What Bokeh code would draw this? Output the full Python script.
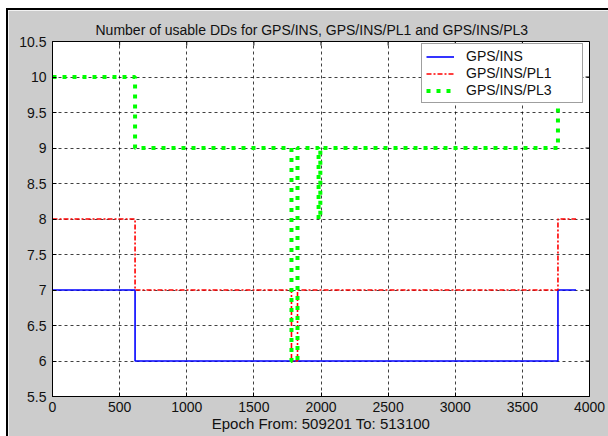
import numpy as np
from bokeh.plotting import figure
from bokeh.layouts import column, row
from bokeh.models import Legend, LegendItem, FixedTicker, CustomJSTickFormatter, Spacer
from bokeh.embed import file_html
from bokeh.resources import INLINE

# ---- data (step change points, value holds until next change) ----
epoch_ins = [0, 615, 3765, 3900]
dd_ins = [7, 6, 7, 7]

epoch_pl1 = [0, 615, 1780, 1825, 3765, 3900]
dd_pl1 = [8, 7, 6, 7, 8, 8]

epoch_pl3 = [0, 615, 1780, 1825, 1982, 1995, 3765, 3900]
dd_pl3 = [10, 9, 6, 9, 8, 9, 10, 10]

x_ticks = [0, 500, 1000, 1500, 2000, 2500, 3000, 3500, 4000]
y_ticks = [5.5, 6, 6.5, 7, 7.5, 8, 8.5, 9, 9.5, 10, 10.5]

title_text = "Number of usable DDs for GPS/INS, GPS/INS/PL1 and GPS/INS/PL3"
x_label = "Epoch From: 509201 To: 513100"

FONT = "Liberation Sans"
GRAY = "#cccccc"
TXT = "#111111"
X0, X1, Y0, Y1 = 0, 4000, 5.5, 10.5

p = figure(width=600, height=426, x_range=(X0, X1), y_range=(Y0, Y1),
           output_backend="svg", toolbar_location=None,
           background_fill_color="white", border_fill_color=GRAY,
           min_border_left=44, min_border_right=19, min_border_top=31, min_border_bottom=40)

p.title.text = title_text
p.title.align = "left"
p.title.offset = 43
p.title.text_font = FONT
p.title.text_font_size = "14px"
p.title.text_font_style = "normal"
p.title.text_color = TXT
p.title.standoff = 8

p.outline_line_color = "black"
p.outline_line_width = 1

for ax in (p.xaxis[0], p.yaxis[0]):
    ax.major_tick_in = 4
    ax.major_tick_out = 0
    ax.minor_tick_line_color = None
    ax.axis_line_color = "black"
    ax.major_tick_line_color = "black"
    ax.major_label_text_font = FONT
    ax.major_label_text_font_size = "14px"
    ax.major_label_text_color = TXT

p.xaxis.ticker = FixedTicker(ticks=x_ticks)
p.yaxis.ticker = FixedTicker(ticks=y_ticks)
p.yaxis.formatter = CustomJSTickFormatter(code="return tick.toString();")
p.xaxis.major_label_standoff = 5
p.yaxis.major_label_standoff = 6
p.xaxis.axis_label = x_label
p.xaxis.axis_label_text_font = FONT
p.xaxis.axis_label_text_font_size = "15px"
p.xaxis.axis_label_text_font_style = "normal"
p.xaxis.axis_label_text_color = TXT
p.xaxis.axis_label_standoff = 0

for g in (p.xgrid[0], p.ygrid[0]):
    g.grid_line_color = "black"
    g.grid_line_dash = "3 3"
    g.grid_line_alpha = 0.75
    g.grid_line_width = 1

# mirrored inward ticks on the top and right edges of the box
p.ray(x=x_ticks, y=[Y1] * len(x_ticks), length=4, length_units="screen",
      angle=-np.pi / 2, line_color="black", line_width=1)
p.ray(x=[X1] * len(y_ticks), y=y_ticks, length=4, length_units="screen",
      angle=np.pi, line_color="black", line_width=1)

r1 = p.step(epoch_ins, dd_ins, mode="after", line_color="#0000ff", line_width=1.6)
r2 = p.step(epoch_pl1, dd_pl1, mode="after", line_color="#ff0000", line_width=1.6,
            line_dash="5 2 2 2")
r3 = p.step(epoch_pl3, dd_pl3, mode="after", line_color="#00ff00", line_width=4,
            line_dash="4 6")

legend = Legend(items=[LegendItem(label="GPS/INS", renderers=[r1]),
                       LegendItem(label="GPS/INS/PL1", renderers=[r2]),
                       LegendItem(label="GPS/INS/PL3", renderers=[r3])],
                location=(369, 293), margin=0, padding=4, spacing=1,
                glyph_width=28, glyph_height=15, label_height=15, label_width=112,
                label_standoff=12,
                label_text_font=FONT, label_text_font_size="14px", label_text_color=TXT,
                border_line_color="#404040", border_line_width=1,
                background_fill_color="white", background_fill_alpha=1)
p.add_layout(legend)

# white margin and black edge lines around the gray figure area
top_pad = Spacer(width=608, height=8)
left_pad = Spacer(width=6, height=428)
top_line = Spacer(width=602, height=2, styles={"background-color": "black"})
left_line = Spacer(width=2, height=426, styles={"background-color": "black"})
layout = column(top_pad, row(left_pad, column(top_line, row(left_line, p))))

open("out.html", "w").write(file_html(layout, INLINE))
